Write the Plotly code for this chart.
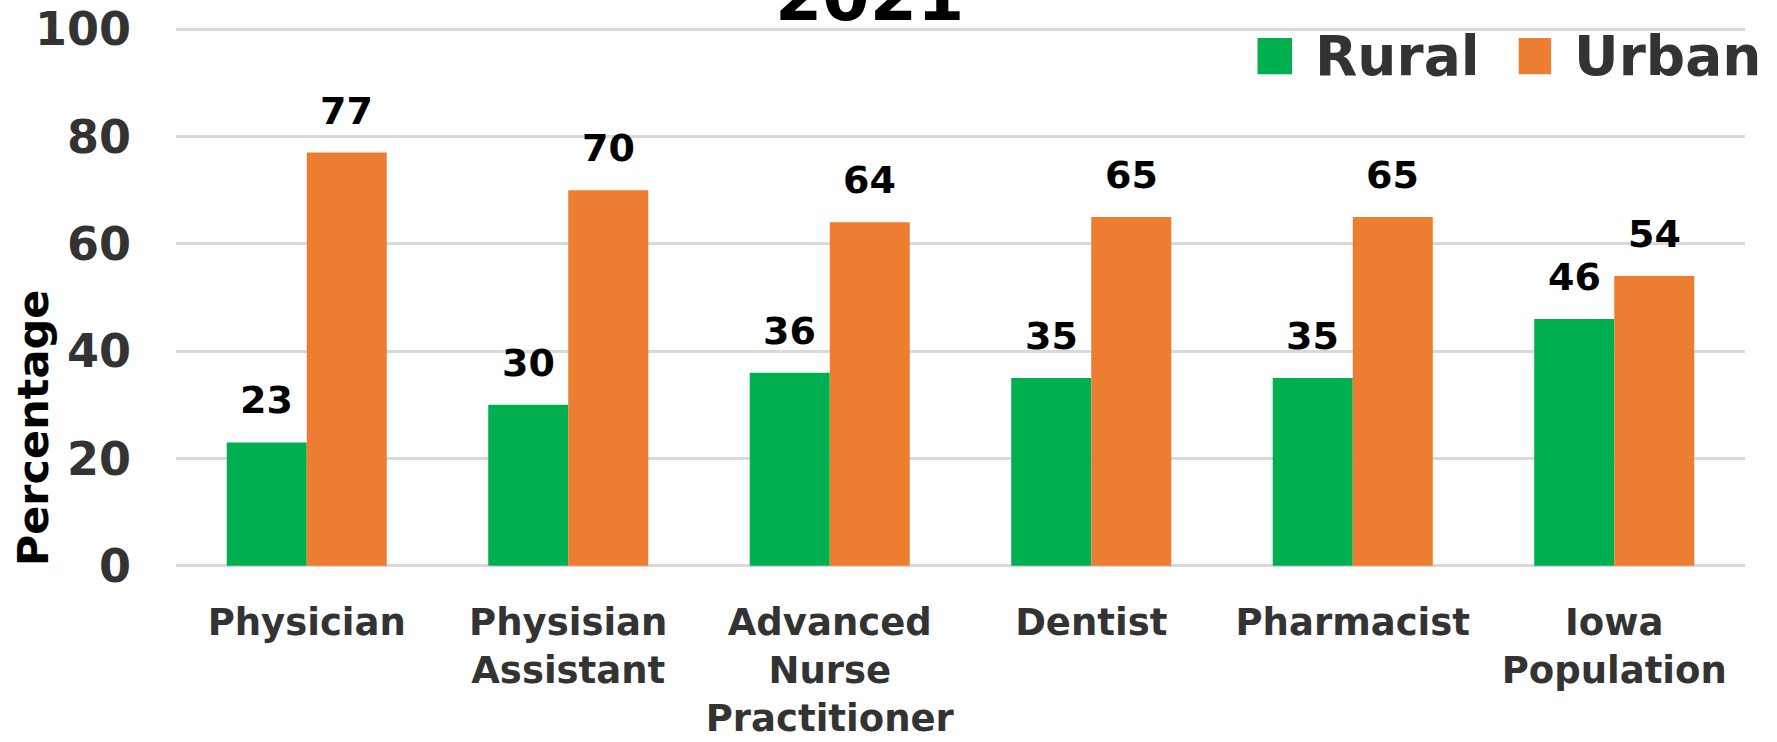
import plotly.graph_objects as go

categories = ["Physician", "Physisian<br>Assistant", "Advanced<br>Nurse<br>Practitioner",
              "Dentist", "Pharmacist", "Iowa<br>Population"]
rural = [23, 30, 36, 35, 35, 46]
urban = [77, 70, 64, 65, 65, 54]
y_ticks = [0, 20, 40, 60, 80, 100]

GREEN = "#00B050"
ORANGE = "#ED7D31"
FONT = "DejaVu Sans"

fig = go.Figure()
fig.add_trace(go.Bar(name="Rural", x=categories, y=rural, marker_color=GREEN,
                     marker_line_width=0, showlegend=False))
fig.add_trace(go.Bar(name="Urban", x=categories, y=urban, marker_color=ORANGE,
                     marker_line_width=0, showlegend=False))

BARGAP = 0.388
half = (1 - BARGAP) / 4  # half width of a single bar in category units

annotations = []
for i, (r, u) in enumerate(zip(rural, urban)):
    for val, off in ((r, -half), (u, half)):
        annotations.append(dict(
            x=i + off, y=val, xref="x", yref="y", text=str(val), showarrow=False,
            yanchor="bottom", xanchor="center", yshift=18,
            font=dict(family=FONT, size=38, color="#000000", weight="bold")))

# Title (partly cut off at top)
annotations.append(dict(x=0.4423, y=0.979, xref="paper", yref="paper", text="2021",
                        showarrow=False, xanchor="center", yanchor="bottom",
                        font=dict(family=FONT, size=68, color="#000000", weight="bold")))
# Y axis title
annotations.append(dict(x=-0.0915, y=0.259, xref="paper", yref="paper", text="Percentage",
                        showarrow=False, xanchor="center", yanchor="middle", textangle=-90,
                        font=dict(family=FONT, size=43, color="#000000", weight="bold")))
# Legend texts
annotations.append(dict(x=0.7245, y=0.947, xref="paper", yref="paper", text="Rural",
                        showarrow=False, xanchor="left", yanchor="middle",
                        font=dict(family=FONT, size=55, color="#333333", weight="bold")))
annotations.append(dict(x=0.8895, y=0.947, xref="paper", yref="paper", text="Urban",
                        showarrow=False, xanchor="left", yanchor="middle",
                        font=dict(family=FONT, size=55, color="#333333", weight="bold")))

shapes = [
    dict(type="rect", xref="paper", yref="paper", x0=0.6893, x1=0.7113, y0=0.9125, y1=0.9795,
         fillcolor=GREEN, line_width=0),
    dict(type="rect", xref="paper", yref="paper", x0=0.8558, x1=0.8764, y0=0.9125, y1=0.9795,
         fillcolor=ORANGE, line_width=0),
]

fig.update_layout(
    width=1777, height=742,
    margin=dict(l=176, r=32, t=27, b=174),
    paper_bgcolor="white", plot_bgcolor="white",
    barmode="group", bargap=BARGAP, bargroupgap=0,
    annotations=annotations, shapes=shapes,
    showlegend=False,
    xaxis=dict(type="category", showgrid=False, showline=False, zeroline=False, ticks="",
               automargin=False,
               tickfont=dict(family=FONT, size=37, color="#333333", weight="bold"),
               ticklabelstandoff=29),
    yaxis=dict(range=[-0.4, 100.4], tickvals=y_ticks, showgrid=True, gridcolor="#D9D9D9",
               gridwidth=3, zeroline=False, showline=False, ticks="", automargin=False,
               tickfont=dict(family=FONT, size=46, color="#333333", weight="bold"),
               ticklabelstandoff=44),
)

fig.write_html("out.html", config={"displayModeBar": False},
               post_script="document.body.style.margin='0';document.body.style.overflow='hidden';")
